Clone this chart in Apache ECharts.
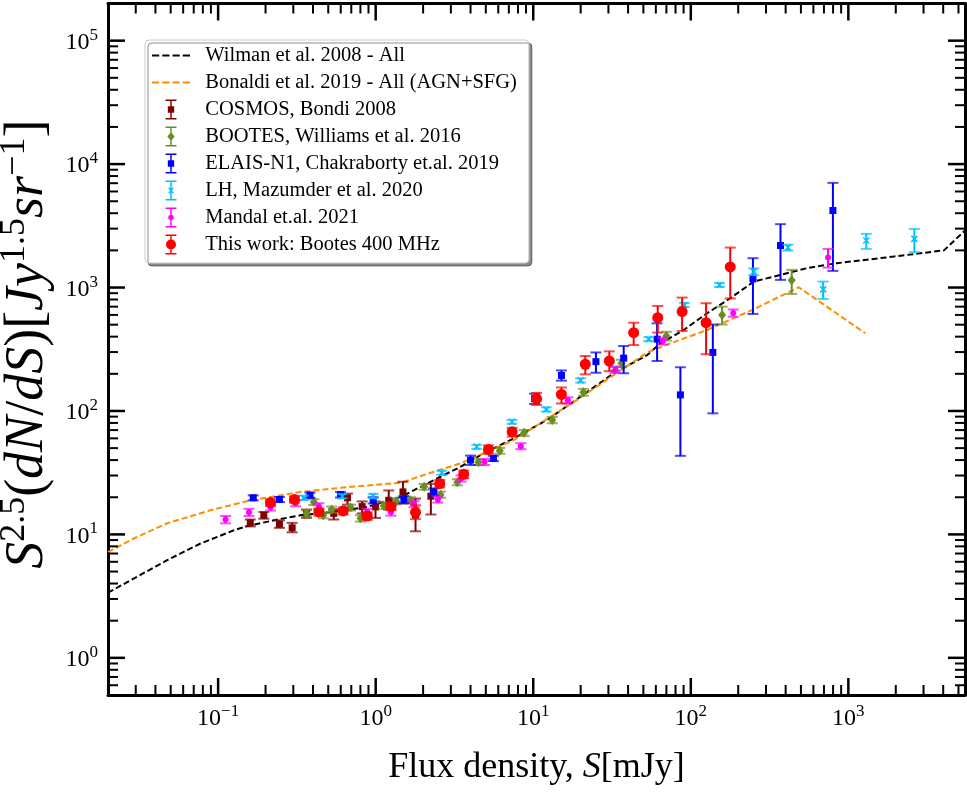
<!DOCTYPE html>
<html><head><meta charset="utf-8">
<script src="https://cdn.jsdelivr.net/npm/echarts@6/dist/echarts.min.js"></script>
<style>html,body{margin:0;padding:0;background:#fff}#c{width:967px;height:794px}</style>
</head><body><div id="c"></div><script>
// ---------- axis ranges & ticks ----------
const X_MIN = 0.02, X_MAX = 5500, Y_MIN = 0.5, Y_MAX = 2e5;
const xMajorTicks = [0.1, 1, 10, 100, 1000];
const xMinorTicks = [0.03,0.04,0.05,0.06,0.07,0.08,0.09,0.2,0.3,0.4,0.5,0.6,0.7,0.8,0.9,
  2,3,4,5,6,7,8,9,20,30,40,50,60,70,80,90,200,300,400,500,600,700,800,900,2000,3000,4000,5000];
const yMajorTicks = [1, 10, 100, 1000, 10000, 100000];
const yMinorTicks = [0.6,0.7,0.8,0.9,2,3,4,5,6,7,8,9,20,30,40,50,60,70,80,90,
  200,300,400,500,600,700,800,900,2000,3000,4000,5000,6000,7000,8000,9000,
  20000,30000,40000,50000,60000,70000,80000,90000];

// ---------- model curves [S (mJy), S^2.5 dN/dS] ----------
const wilman = [[0.02,3.37],[0.0475,6.18],[0.0773,8.44],[0.126,10.8],[0.153,11.7],[0.226,13.0],
  [0.333,14.3],[0.542,15.2],[0.883,16.7],[1.44,20.1],[2.70,30.2],[3.45,35.2],[4.62,43.9],[7.52,60],
  [12.2,84.4],[19.9,130],[32.4,202],[52.9,284],[64.1,353],[90.2,453],[127,619],[178,819],[251,1117],
  [370,1265],[547,1435],[848,1575],[1938,1782],[4045,2000],[5500,2900]];
const bonaldi = [[0.02,7.2],[0.0292,9.27],[0.0475,12.3],[0.0895,15.7],[0.161,18.9],[0.333,22.1],
  [0.692,24.3],[1.44,26.2],[2.34,32.2],[3.45,37.6],[7.52,58],[19.9,128],[52.9,298],[74.3,353],
  [127,453],[251,667],[484,1005],[1282,426]];

// ---------- measurements [S, value, lower, upper] ----------
const cosmos = [[0.160,12.4,11.6,13.2],[0.195,14.3,13.4,15.2],[0.245,12.1,11.3,13.0],[0.295,11.3,10.4,12.4],
  [0.364,14.7,13.6,15.9],[0.542,14.8,13.2,16.0],[0.662,19.8,17.4,21.4],[0.820,16.8,14.8,18.5],
  [0.997,16.7,13.6,18.5],[1.21,18.9,15.9,22.7],[1.49,22.1,17.8,26.7],[1.79,14.4,10.6,19.5],[2.24,20.4,14.5,25.7]];
const bootes = [[0.364,14.8,13.9,15.7],[0.405,18.3,17.3,19.3],[0.465,14.3,13.5,15.1],[0.525,15.9,15.0,16.8],
  [0.692,16.5,15.6,17.4],[0.801,13.5,12.7,14.3],[1.125,17.1,16.1,18.1],[1.35,18.6,17.5,19.7],
  [1.66,18.9,17.8,20.0],[2.03,24.3,23.0,25.6],[2.58,21.0,19.8,22.2],[3.30,26.5,25.0,28.0],
  [4.49,38.5,36.4,40.6],[6.13,47.6,45.0,50.2],[8.75,66.5,62.8,70.2],[13.2,84.5,79.5,89.5],
  [20.8,142,133,151],[36.3,243,226,260],[70.0,405,372,438],[158,600,502,700],[437,1145,888,1390]];
const elais = [[0.167,19.8,18.9,20.7],[0.245,19.2,18.3,20.1],[0.383,20.8,19.8,21.8],[0.598,21.0,19.9,22.1],
  [0.964,18.9,17.8,20.0],[1.51,19.2,17.9,20.5],[2.34,22.1,20.6,23.6],[4.00,40.0,36.5,43.5],
  [5.59,41.3,39.3,43.3],[10.2,126,114,138],[15.1,194,176,213],[25.0,251,204,298],[37.5,268,202,336],
  [61.1,382,254,513],[85.9,135,43.3,226],[138,298,95.7,502],[248,1175,611,1728],[371,2188,1153,3260],
  [798,4206,1364,7046]];
const lh = [[0.348,19.8,19.0,20.6],[0.613,20.4,19.6,21.2],[0.964,20.5,19.7,21.3],[2.63,31.6,30.4,32.8],
  [4.38,51.3,49.4,53.2],[7.33,81.7,78.7,84.7],[12.1,103,99,107],[20.0,177,170,184],[32.9,221,213,229],
  [54.1,382,368,396],[91.1,723,695,751],[152,1050,1010,1090],[251,1346,1260,1430],[414,2107,1990,2224],
  [692,966,808,1117],[1300,2401,2056,2722],[2624,2478,1933,2986]];
const mandal = [[0.1115,13.2,12.3,14.1],[0.157,15.1,14.1,16.1],[0.215,16.6,15.6,17.6],[0.31,17.9,16.9,18.9],
  [0.436,16.9,15.9,17.9],[0.883,15.2,14.3,16.1],[1.25,15.1,14.2,16.0],[1.75,17.6,16.6,18.6],
  [2.48,19.2,18.1,20.3],[3.48,28.4,26.8,30.0],[4.92,38.7,36.5,40.9],[8.34,51.9,49.0,54.8],
  [16.6,122,115,129],[33.2,215,203,227],[66.5,369,345,393],[186,622,580,664],[743,1754,1450,2056]];
const thisWork = [[0.215,18.1,17.0,19.2],[0.305,19.2,18.1,20.3],[0.436,15.2,14.2,16.2],[0.622,15.5,14.5,16.5],
  [0.883,14.1,13.1,15.1],[1.25,16.8,15.7,17.9],[1.79,15.1,13.3,17.2],[2.55,25.8,24.0,27.6],
  [3.62,30.7,28.5,32.9],[5.20,48.8,45.0,52.6],[7.35,67.8,62,73],[10.5,126,112,140],[15.1,136,115,155],
  [21.4,239,198,279],[30.4,254,210,304],[43.4,431,342,519],[61.7,570,431,709],[88.1,638,445,829],
  [125,519,288,746],[178,1469,816,2107]];

const NAMES = ['Wilman et al. 2008 - All','Bonaldi et al. 2019 - All (AGN+SFG)','COSMOS, Bondi 2008',
  'BOOTES, Williams et al. 2016','ELAIS-N1, Chakraborty et.al. 2019','LH, Mazumder et al. 2020',
  'Mandal et.al. 2021','This work: Bootes 400 MHz'];

const FONT = 'Liberation Serif';
const chart = echarts.init(document.getElementById('c'), null, {renderer:'canvas'});

function supLabel(v){
  const e = Math.round(Math.log10(v));
  return '{b|10}{s|' + (e < 0 ? '\u2212' + (-e) : e) + '}';
}
const tickRich = {
  b:{fontFamily:FONT, fontSize:24, color:'#000', lineHeight:28, verticalAlign:'bottom'},
  s:{fontFamily:FONT, fontSize:17, color:'#000', lineHeight:17, verticalAlign:'top'}
};
function xAx(pos, labels){
  return {type:'log', logBase:10, min:X_MIN, max:X_MAX, position:pos, gridIndex:0,
    axisLine:{show:true, onZero:false, lineStyle:{color:'#000', width:3}},
    axisTick:{show:false},
    axisLabel: labels ? {show:true, customValues:xMajorTicks, margin:8, formatter:supLabel, rich:tickRich} : {show:false},
    splitLine:{show:false}, minorTick:{show:false},
    name: labels ? 'Flux density, {i|S}[mJy]' : '', nameLocation:'middle', nameGap:55,
    nameTextStyle:{fontFamily:FONT, fontSize:36, color:'#000',
      rich:{i:{fontFamily:FONT, fontSize:36, fontStyle:'italic', color:'#000'}}}};
}
function yAx(pos, labels){
  return {type:'log', logBase:10, min:Y_MIN, max:Y_MAX, position:pos, gridIndex:0,
    axisLine:{show:true, onZero:false, lineStyle:{color:'#000', width:3}},
    axisTick:{show:false},
    axisLabel: labels ? {show:true, customValues:yMajorTicks, margin:10, formatter:supLabel, rich:tickRich} : {show:false},
    splitLine:{show:false}, minorTick:{show:false},
    name: labels ? '{g| }{i|S}{p|2.5}{r|(}{i|dN}{r|/}{i|dS}{r|)[}{i|Jy}{p|1.5}{i|sr}{p|\u22121}{r|]}' : '',
    nameLocation:'middle', nameGap:38, nameRotate:90,
    nameTextStyle:{fontFamily:FONT, fontSize:54, color:'#000', rich:{
      g:{fontFamily:FONT, fontSize:10, width:10, lineHeight:10, verticalAlign:'bottom'},
      i:{fontFamily:FONT, fontSize:54, fontStyle:'italic', color:'#000', lineHeight:58, verticalAlign:'bottom'},
      r:{fontFamily:FONT, fontSize:54, color:'#000', lineHeight:58, verticalAlign:'bottom'},
      p:{fontFamily:FONT, fontSize:36, color:'#000', lineHeight:31, verticalAlign:'top'}}}};
}

// frame ticks drawn through the axes' scales (inward, on all four sides)
function xTickSeries(vals, len, w){
  return {type:'custom', silent:true, coordinateSystem:'cartesian2d', xAxisIndex:0, yAxisIndex:0, z:5,
    data: vals.map(v => [v, Y_MIN]), encode:{x:0, y:1},
    renderItem(params, api){
      const cs = params.coordSys, p = api.coord([api.value(0), api.value(1)]), b = cs.y + cs.height;
      return {type:'group', children:[
        {type:'line', shape:{x1:p[0], y1:b, x2:p[0], y2:b-len}, style:{stroke:'#000', lineWidth:w}},
        {type:'line', shape:{x1:p[0], y1:cs.y, x2:p[0], y2:cs.y+len}, style:{stroke:'#000', lineWidth:w}}]};
    }};
}
function yTickSeries(vals, len, w){
  return {type:'custom', silent:true, coordinateSystem:'cartesian2d', xAxisIndex:0, yAxisIndex:0, z:5,
    data: vals.map(v => [X_MIN, v]), encode:{x:0, y:1},
    renderItem(params, api){
      const cs = params.coordSys, p = api.coord([api.value(0), api.value(1)]), r = cs.x + cs.width;
      return {type:'group', children:[
        {type:'line', shape:{x1:cs.x, y1:p[1], x2:cs.x+len, y2:p[1]}, style:{stroke:'#000', lineWidth:w}},
        {type:'line', shape:{x1:r, y1:p[1], x2:r-len, y2:p[1]}, style:{stroke:'#000', lineWidth:w}}]};
    }};
}

function errRender(color, marker){
  return function(params, api){
    const S = api.value(0), v = api.value(1), lo = api.value(2), hi = api.value(3);
    const p = api.coord([S, v]), pt = api.coord([S, hi]), pb = api.coord([S, lo]);
    const x = p[0], y = p[1], cap = 5.5;
    const ch = [
      {type:'line', shape:{x1:x, y1:pt[1], x2:x, y2:pb[1]}, style:{stroke:color, lineWidth:2}},
      {type:'line', shape:{x1:x-cap, y1:pt[1], x2:x+cap, y2:pt[1]}, style:{stroke:color, lineWidth:2, opacity:0.7}},
      {type:'line', shape:{x1:x-cap, y1:pb[1], x2:x+cap, y2:pb[1]}, style:{stroke:color, lineWidth:2, opacity:0.7}}
    ];
    if (marker === 'square') ch.push({type:'rect', shape:{x:x-3.5, y:y-3.5, width:7, height:7}, style:{fill:color}});
    else if (marker === 'circle') ch.push({type:'circle', shape:{cx:x, cy:y, r:5.5}, style:{fill:color}});
    else if (marker === 'dot') ch.push({type:'circle', shape:{cx:x, cy:y, r:3}, style:{fill:color}});
    else if (marker === 'diamond') ch.push({type:'polygon', shape:{points:[[x,y-5],[x+4,y],[x,y+5],[x-4,y]]}, style:{fill:color}});
    else if (marker === 'x') {
      ch.push({type:'line', shape:{x1:x-3, y1:y-3, x2:x+3, y2:y+3}, style:{stroke:color, lineWidth:1.5}});
      ch.push({type:'line', shape:{x1:x-3, y1:y+3, x2:x+3, y2:y-3}, style:{stroke:color, lineWidth:1.5}});
    }
    return {type:'group', children:ch};
  };
}
function errSeries(name, data, color, marker){
  return {name, type:'custom', coordinateSystem:'cartesian2d', xAxisIndex:0, yAxisIndex:0,
    data, encode:{x:0, y:[1,2,3]}, itemStyle:{color}, renderItem:errRender(color, marker), z:4};
}

const BAR = 'M0 0H12V1.6H0Z M5.2 0H6.8V22H5.2Z M0 20.4H12V22H0Z ';
const ICONS = {
  dash: 'path://M0 0H7V2H0Z M10 0H17V2H10Z M20 0H27V2H20Z M30 0H37V2H30Z',
  square: 'path://' + BAR + 'M2.5 7.5H9.5V14.5H2.5Z',
  circle: 'path://' + BAR + 'M0.5 11A5.5 5.5 0 1 1 11.5 11A5.5 5.5 0 1 1 0.5 11Z',
  dot: 'path://' + BAR + 'M3 11A3 3 0 1 1 9 11A3 3 0 1 1 3 11Z',
  diamond: 'path://' + BAR + 'M6 6L10 11L6 16L2 11Z',
  x: 'path://' + BAR + 'M3 8.5L4 7.5L9 13.5L8 14.5Z M8 7.5L9 8.5L4 14.5L3 13.5Z'
};

const option = {
  animation:false,
  backgroundColor:'#fff',
  grid:{left:108, right:2, top:3.5, bottom:99, containLabel:false, outerBoundsMode:'none'},
  xAxis:[xAx('bottom', true), xAx('top', false)],
  yAxis:[yAx('left', true), yAx('right', false)],
  legend:{orient:'vertical', left:145, top:40, padding:[5,12,8,7], itemGap:6, itemWidth:38, itemHeight:20,
    backgroundColor:'#fff', borderColor:'#cccccc', borderWidth:1, borderRadius:4,
    shadowColor:'rgba(0,0,0,0.45)', shadowBlur:0, shadowOffsetX:3, shadowOffsetY:3,
    textStyle:{fontFamily:FONT, fontSize:20.5, lineHeight:20, color:'#000'},
    formatter: n => '  ' + n,
    data:[{name:NAMES[0], icon:ICONS.dash},{name:NAMES[1], icon:ICONS.dash},
      {name:NAMES[2], icon:ICONS.square},{name:NAMES[3], icon:ICONS.diamond},
      {name:NAMES[4], icon:ICONS.square},{name:NAMES[5], icon:ICONS.x},
      {name:NAMES[6], icon:ICONS.dot},{name:NAMES[7], icon:ICONS.circle}]},
  series:[
    {name:NAMES[0], type:'line', data:wilman, symbol:'none', showSymbol:false, clip:true,
      lineStyle:{color:'#000', width:2, type:[6,3]}, itemStyle:{color:'#000'}, z:3},
    {name:NAMES[1], type:'line', data:bonaldi, symbol:'none', showSymbol:false, clip:true,
      lineStyle:{color:'#ff8c00', width:2, type:[6,3]}, itemStyle:{color:'#ff8c00'}, z:3},
    errSeries(NAMES[2], cosmos, '#800000', 'square'),
    errSeries(NAMES[3], bootes, '#6b8e23', 'diamond'),
    errSeries(NAMES[4], elais, '#0000ff', 'square'),
    errSeries(NAMES[5], lh, '#00bfff', 'x'),
    errSeries(NAMES[6], mandal, '#ff00ff', 'dot'),
    errSeries(NAMES[7], thisWork, '#ff0000', 'circle'),
    xTickSeries(xMajorTicks, 17, 2.5), xTickSeries(xMinorTicks, 10, 2),
    yTickSeries(yMajorTicks, 17, 2.5), yTickSeries(yMinorTicks, 10, 2)
  ]
};
chart.setOption(option);
</script></body></html>
